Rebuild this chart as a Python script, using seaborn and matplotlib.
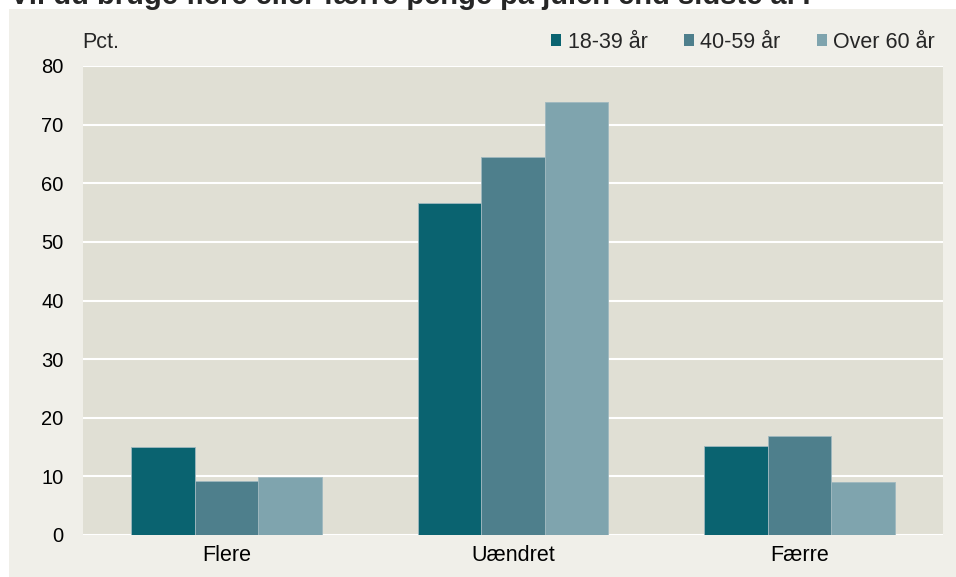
import numpy as np
import pandas as pd
import matplotlib.pyplot as plt
import matplotlib.patches as mpatches
import seaborn as sns

categories = ['Flere', 'Uændret', 'Færre']
groups = ['18-39 år', '40-59 år', 'Over 60 år']
v_18_39 = [15.0, 56.7, 15.2]
v_40_59 = [9.2, 64.4, 16.9]
v_over60 = [9.9, 73.8, 9.0]
colors = ['#0a6370', '#4e7f8c', '#7fa4ae']

df = pd.DataFrame({
    'Kategori': categories * 3,
    'Alder': [g for g in groups for _ in categories],
    'Pct': v_18_39 + v_40_59 + v_over60,
})

sns.set_theme(style='white')
plt.rcParams['font.family'] = ['Liberation Sans', 'DejaVu Sans']

fig = plt.figure(figsize=(9.56, 5.77), dpi=100, facecolor='white')
# panel background
fig.patches.append(mpatches.Rectangle((9 / 956, 0), 1, 1 - 9 / 577, transform=fig.transFigure,
                                      facecolor='#f0efe9', edgecolor='none', zorder=-10))
ax = fig.add_axes([83 / 956, 1 - 535 / 577, 860 / 956, 469 / 577])
ax.set_facecolor('#e0dfd4')

sns.barplot(data=df, x='Kategori', y='Pct', hue='Alder', order=categories, hue_order=groups,
            palette=colors, saturation=1, width=0.665, edgecolor='#9fb8bf', linewidth=0.6,
            ax=ax, legend=False)

ax.set_ylim(0, 80)
ax.set_xlim(-0.5, 2.5)
ax.set_yticks(range(0, 81, 10))
ax.yaxis.grid(True, color='white', linewidth=1.5)
ax.set_axisbelow(True)
for s in ax.spines.values():
    s.set_visible(False)
ax.tick_params(axis='both', length=0, colors='black')
ax.tick_params(axis='y', pad=14, labelsize=14.5)
ax.tick_params(axis='x', pad=7, labelsize=15.5)
ax.set_xlabel('')
ax.set_ylabel('')

fig.text(82 / 956, 1 - 42 / 577, 'Pct.', fontsize=15.5, va='center', ha='left')

handles = [mpatches.Patch(facecolor=c, edgecolor='none') for c in colors]
ax.legend(handles, groups, loc='center right', bbox_to_anchor=(1 - 21 / 956, 1 - 42 / 577),
          bbox_transform=fig.transFigure, ncol=3, frameon=False, fontsize=15.5,
          handlelength=0.45, handleheight=0.45, handletextpad=0.3, columnspacing=1.7,
          borderaxespad=0, borderpad=0)

fig.text(10 / 956, 1 - 4 / 577, 'Vil du bruge flere eller færre penge på julen end sidste år?',
         fontsize=21, fontweight='bold', va='baseline', ha='left', zorder=5)

fig.savefig('out.png', dpi=100, facecolor=fig.get_facecolor())
